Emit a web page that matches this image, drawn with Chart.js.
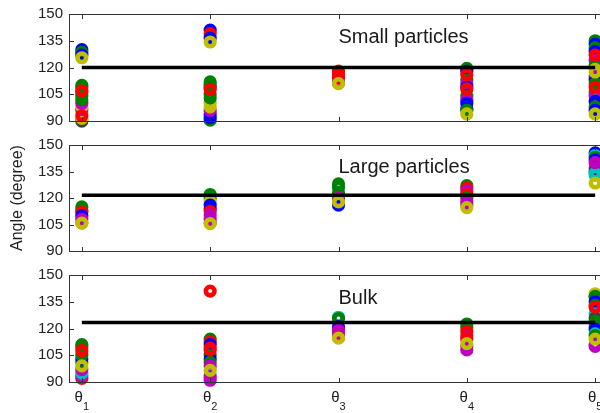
<!DOCTYPE html>
<html>
<head>
<meta charset="utf-8">
<script src="https://cdn.jsdelivr.net/npm/chart.js@4.4.0/dist/chart.umd.min.js"></script>
<style>
  html, body { margin: 0; padding: 0; background: #fff; overflow: hidden; width: 600px; height: 413px; }
  .panel { position: absolute; left: 0; width: 620px; }
</style>
</head>
<body>
<div class="panel" style="top:0;height:130px"><canvas id="small" width="620" height="130"></canvas></div>
<div class="panel" style="top:130px;height:130px"><canvas id="large" width="620" height="130"></canvas></div>
<div class="panel" style="top:260px;height:153px"><canvas id="bulk" width="620" height="153"></canvas></div>
<script>
// categories and axis
const thetaLabels = ['1', '2', '3', '4', '5'];
const yTicks = [90, 105, 120, 135, 150];

// MATLAB style marker colours
const markerColors = { b: '#0000ff', g: '#008000', r: '#ff0000', c: '#00bfbf', m: '#bf00bf', y: '#bfbf00', k: '#404040' };

// Small particles: values per theta, drawn in order (last on top)
const smallValues = [
    [130, 128.5, 127, 125.5, 90, 91.5, 95, 96.5, 98, 100, 102, 104, 106, 108.5, 110, 107, 93],
    [141, 139, 136.5, 134.3, 90.5, 92, 94, 96, 98, 100, 103, 105, 109, 110.5, 112, 107.8],
    [118, 116, 114, 111.3, 111],
    [119.5, 118, 113, 111, 109, 104, 102, 100, 97, 96, 116, 108, 94],
    [135, 133, 131, 129, 124, 121, 119, 115, 113, 111, 106, 104, 101, 98, 96, 127, 117.5, 109, 94]
];
const smallColors = ['bgbykyymymgggggrr', 'brbygbbmyyggbggr', 'rrrmy', 'gbgmbgmbbgrry', 'gbgbmgymbggmbgbryry'];
const smallRef = 120;

// Large particles
const largeValues = [
    [115, 113, 112, 110, 108, 106, 105.8],
    [122, 120, 118, 116, 114, 112.5, 110.5, 108, 106, 105.5],
    [128, 126, 126.5, 123, 120, 116, 117.8],
    [127, 125.5, 124, 122, 120, 118, 116, 114.6],
    [145.5, 144, 143, 141.5, 137, 135, 134, 133, 140, 128.5]
];
const largeColors = ['ggrbmmy', 'ggybbrmmmy', 'gcggmby', 'grmrgmmy', 'bcgbmkccmy'];
const largeRef = 121.6;

// Bulk
const bulkValues = [
    [92, 93.5, 95, 97, 101, 103, 105, 109.5, 111, 107.5, 99],
    [114, 112.5, 111, 109, 105, 103, 101, 99, 94, 91, 93, 108, 96.5, 141],
    [126.3, 125.6, 121, 119, 117.5, 115, 114.6],
    [122.5, 120.5, 116, 114, 110, 108, 118.3, 111.5],
    [139.5, 137.5, 138, 135, 133, 128, 126, 124, 121, 119.5, 117, 116, 111, 110, 132, 114]
];
const bulkColors = ['rmcmgbgrgry', 'grbrgbgmcmmryr', 'cgbmmry', 'ggmrmmry', 'ykgbgckggbcgmmry'];
const bulkRef = 123.3;

const FONT = '"Liberation Sans", Arial, Helvetica, sans-serif';

// box and inward ticks, drawn as 1px filled rectangles
function drawFrame(chart) {
    const { ctx, chartArea: a, scales: { x, y } } = chart;
    const l = Math.round(a.left), r = Math.round(a.right), t = Math.round(a.top), b = Math.round(a.bottom);
    ctx.save();
    ctx.fillStyle = '#333333';
    ctx.fillRect(l, t, r - l + 1, 1);
    ctx.fillRect(l, b, r - l + 1, 1);
    ctx.fillRect(l, t, 1, b - t + 1);
    ctx.fillRect(r, t, 1, b - t + 1);
    thetaLabels.forEach((lab, i) => {
        const px = Math.round(x.getPixelForValue(i + 1));
        ctx.fillRect(px, t, 1, 5);
        ctx.fillRect(px, b - 4, 1, 5);
    });
    yTicks.forEach(v => {
        const py = Math.round(y.getPixelForValue(v));
        ctx.fillRect(l, py, 5, 1);
    });
    ctx.restore();
}

const panelDecor = {
    id: 'panelDecor',
    afterDraw(chart, args, opts) {
        const { ctx, chartArea: a, scales: { x, y } } = chart;
        drawFrame(chart);
        ctx.save();
        ctx.fillStyle = '#1a1a1a';
        ctx.font = '20px ' + FONT;
        ctx.textAlign = 'left';
        ctx.textBaseline = 'alphabetic';
        ctx.fillText(opts.title, x.getPixelForValue(3), y.getPixelForValue(134));
        if (opts.showX) {
            thetaLabels.forEach((t, i) => {
                const px = x.getPixelForValue(i + 1);
                ctx.font = '15px ' + FONT;
                const w1 = ctx.measureText('θ').width;
                ctx.font = '11px ' + FONT;
                const w2 = ctx.measureText(t).width;
                const start = px - (w1 + w2) / 2;
                ctx.font = '15px ' + FONT;
                ctx.fillText('θ', start, a.bottom + 20);
                ctx.font = '11px ' + FONT;
                ctx.fillText(t, start + w1, a.bottom + 28);
            });
        }
        ctx.restore();
    }
};

function makePanel(id, values, colors, ref, title, opts) {
    const points = [];
    const borders = [];
    values.forEach((list, i) => {
        list.forEach((v, j) => {
            points.push({ x: i + 1, y: v });
            borders.push(markerColors[colors[i][j]]);
        });
    });
    new Chart(document.getElementById(id), {
        data: {
            datasets: [
                {
                    type: 'line',
                    data: [{ x: 1, y: ref }, { x: 5, y: ref }],
                    borderColor: '#000',
                    borderWidth: 3.5,
                    pointRadius: 0,
                    order: 0
                },
                {
                    type: 'scatter',
                    data: points,
                    pointBorderColor: borders,
                    pointBackgroundColor: 'rgba(0,0,0,0)',
                    pointRadius: 4.3,
                    pointBorderWidth: 4.6,
                    clip: false,
                    order: 1
                }
            ]
        },
        options: {
            responsive: false,
            animation: false,
            devicePixelRatio: 1,
            events: [],
            layout: { padding: { top: opts.top, bottom: opts.bottom, left: 0, right: 12 } },
            plugins: {
                legend: { display: false },
                tooltip: { enabled: false },
                panelDecor: { title: title, showX: opts.showX }
            },
            scales: {
                x: { type: 'linear', min: 0.9, max: 5.1, display: false },
                y: {
                    min: 90,
                    max: 150,
                    afterFit: function(scale) {
                        scale.width = 69;
                        scale.paddingTop = 0;
                        scale.paddingBottom = 0;
                    },
                    afterBuildTicks: function(scale) { scale.ticks = yTicks.map(v => ({ value: v })); },
                    grid: { display: false, drawTicks: false },
                    border: { display: false },
                    ticks: { padding: 6, color: '#222', font: { size: 15, family: FONT } },
                    title: {
                        display: !!opts.yTitle,
                        text: opts.yTitle || '',
                        color: '#222',
                        font: { size: 16, family: FONT },
                        padding: { top: 8, bottom: 0 }
                    }
                }
            }
        },
        plugins: [panelDecor]
    });
}

makePanel('small', smallValues, smallColors, smallRef, 'Small particles', { top: 14, bottom: 8 });
makePanel('large', largeValues, largeColors, largeRef, 'Large particles', { top: 15, bottom: 8, yTitle: 'Angle (degree)' });
makePanel('bulk', bulkValues, bulkColors, bulkRef, 'Bulk', { top: 15, bottom: 31, showX: true });
</script>
</body>
</html>
